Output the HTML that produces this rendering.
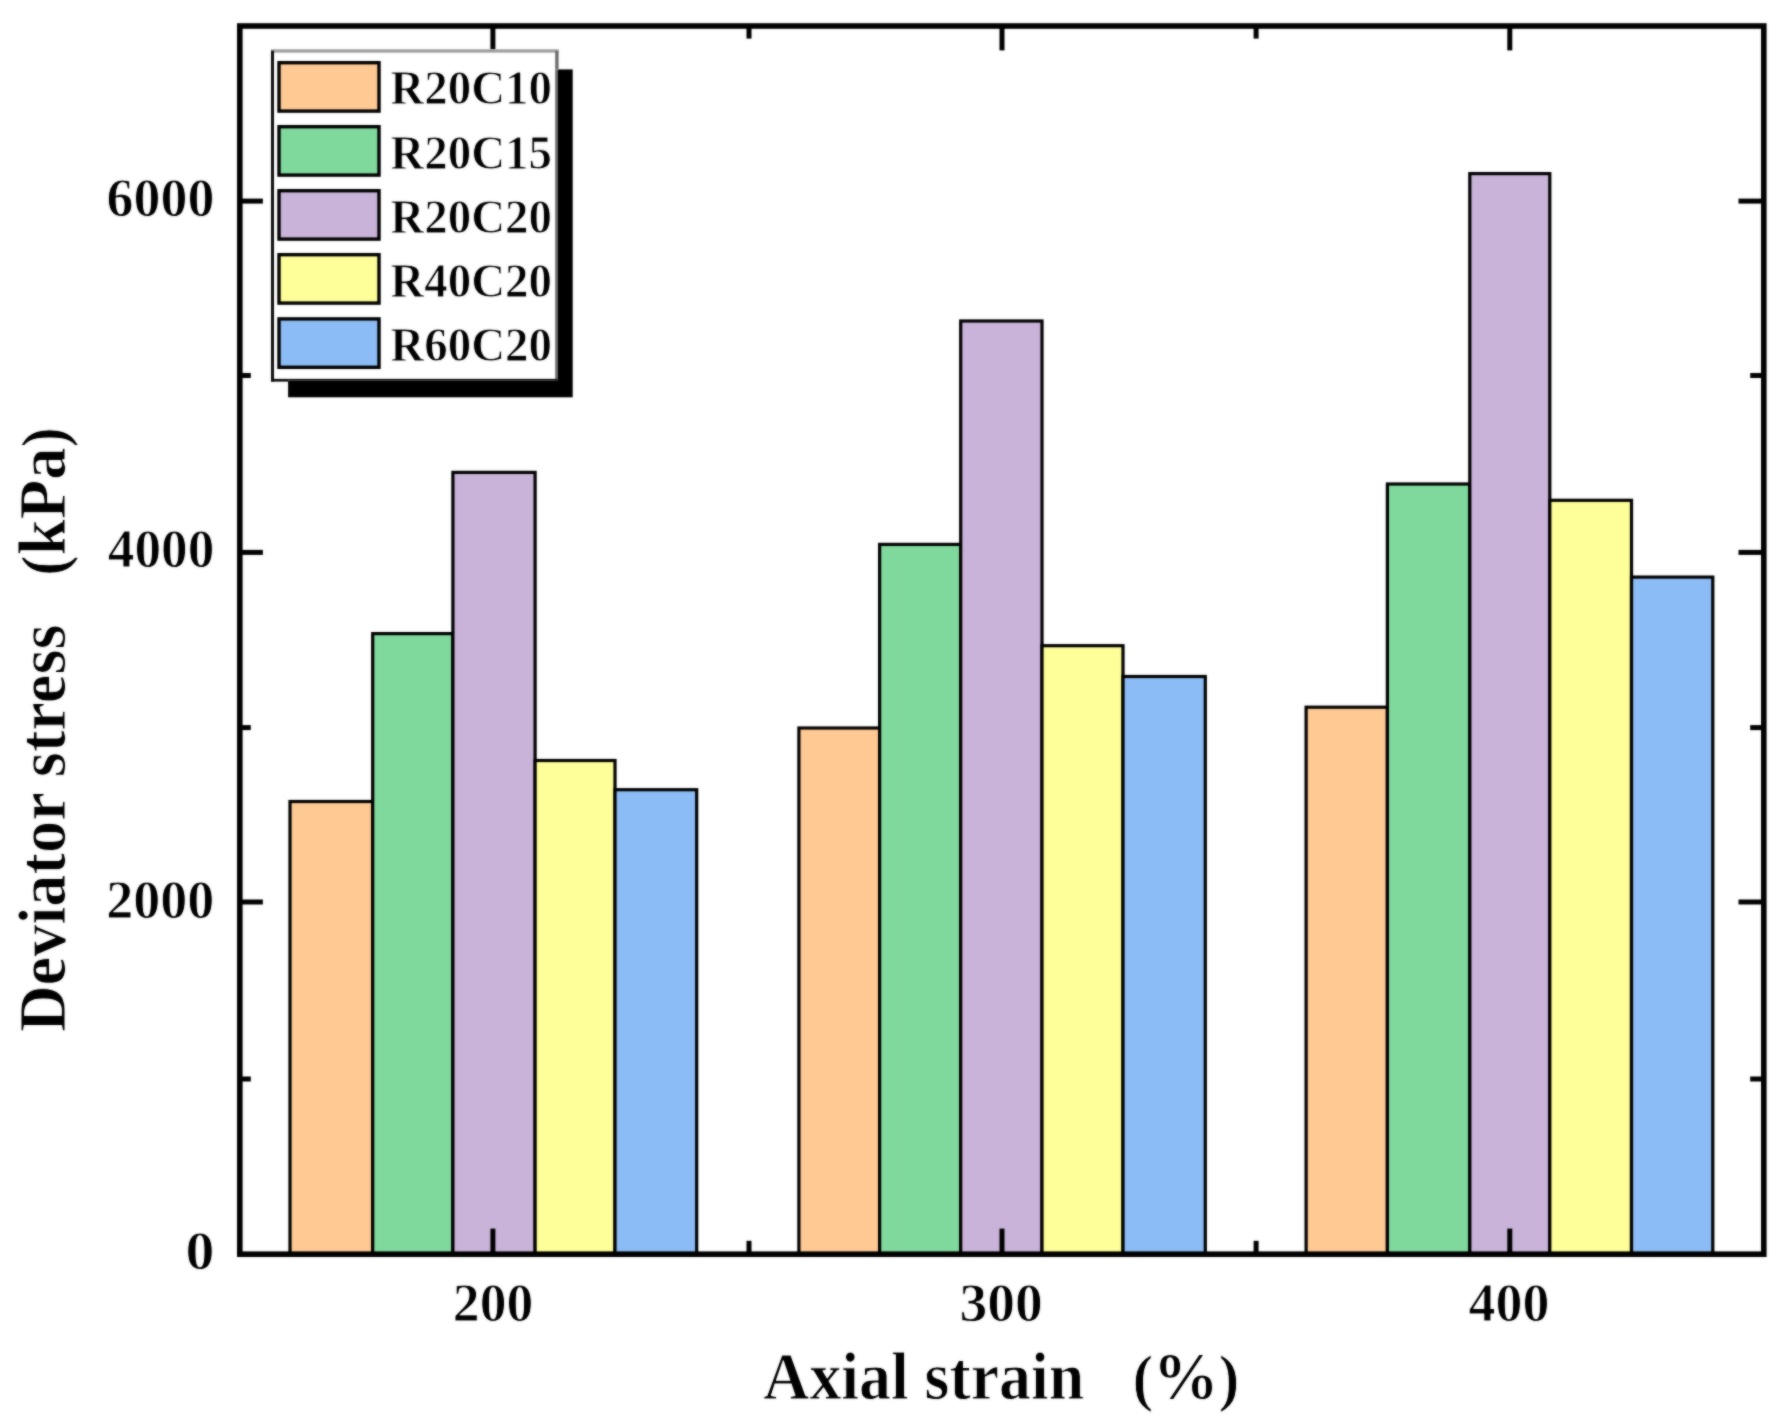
<!DOCTYPE html>
<html lang="en"><head><meta charset="utf-8"><title>Deviator stress vs axial strain</title>
<style>html,body{margin:0;padding:0;background:#fff;}body{width:1785px;height:1421px;overflow:hidden;}svg{display:block;}text{font-family:"Liberation Serif","Times New Roman",Times,serif;font-weight:bold;fill:#000;stroke:#fff;stroke-width:0.9px;stroke-linejoin:round;}</style></head><body>
<svg width="1785" height="1421" viewBox="0 0 1785 1421">
<defs><filter id="soft" filterUnits="userSpaceOnUse" x="0" y="0" width="1785" height="1421" color-interpolation-filters="sRGB"><feGaussianBlur stdDeviation="1.0" result="b"/><feComposite in="SourceGraphic" in2="b" operator="arithmetic" k1="0" k2="0.44999999999999996" k3="0.55" k4="0"/></filter></defs>
<rect x="0" y="0" width="1785" height="1421" fill="#fff"/>
<g filter="url(#soft)">
<rect x="0" y="0" width="1785" height="1421" fill="#fff"/>
<g stroke="#000000" stroke-width="3.2" stroke-linejoin="miter">
<rect x="290.00" y="801.50" width="82.70" height="452.70" fill="#FFC994"/>
<rect x="372.70" y="633.60" width="80.20" height="620.60" fill="#80D99C"/>
<rect x="452.90" y="472.40" width="82.20" height="781.80" fill="#C9B3D9"/>
<rect x="535.10" y="760.50" width="79.90" height="493.70" fill="#FFFF99"/>
<rect x="615.00" y="789.70" width="81.70" height="464.50" fill="#8CBCF5"/>
<rect x="798.90" y="728.00" width="80.70" height="526.20" fill="#FFC994"/>
<rect x="879.60" y="544.40" width="81.10" height="709.80" fill="#80D99C"/>
<rect x="960.70" y="321.00" width="81.30" height="933.20" fill="#C9B3D9"/>
<rect x="1042.00" y="645.70" width="81.00" height="608.50" fill="#FFFF99"/>
<rect x="1123.00" y="676.50" width="82.30" height="577.70" fill="#8CBCF5"/>
<rect x="1306.10" y="707.20" width="81.30" height="547.00" fill="#FFC994"/>
<rect x="1387.40" y="484.00" width="82.40" height="770.20" fill="#80D99C"/>
<rect x="1469.80" y="173.60" width="80.00" height="1080.60" fill="#C9B3D9"/>
<rect x="1549.80" y="500.30" width="81.70" height="753.90" fill="#FFFF99"/>
<rect x="1631.50" y="577.10" width="81.30" height="677.10" fill="#8CBCF5"/>
</g>
<g stroke="#000" fill="none">
<rect x="239.80" y="26.00" width="1524.00" height="1228.20" stroke-width="5.6"/>
<g stroke-width="5.0">
<line x1="492.90" y1="1254.20" x2="492.90" y2="1228.60"/>
<line x1="492.90" y1="26.00" x2="492.90" y2="50.40"/>
<line x1="1002.00" y1="1254.20" x2="1002.00" y2="1228.60"/>
<line x1="1002.00" y1="26.00" x2="1002.00" y2="50.40"/>
<line x1="1509.80" y1="1254.20" x2="1509.80" y2="1228.60"/>
<line x1="1509.80" y1="26.00" x2="1509.80" y2="50.40"/>
<line x1="749.00" y1="1254.20" x2="749.00" y2="1240.80"/>
<line x1="749.00" y1="26.00" x2="749.00" y2="38.60"/>
<line x1="1256.10" y1="1254.20" x2="1256.10" y2="1240.80"/>
<line x1="1256.10" y1="26.00" x2="1256.10" y2="38.60"/>
<line x1="239.80" y1="902.00" x2="262.90" y2="902.00"/>
<line x1="1763.80" y1="902.00" x2="1738.50" y2="902.00"/>
<line x1="239.80" y1="552.40" x2="262.90" y2="552.40"/>
<line x1="1763.80" y1="552.40" x2="1738.50" y2="552.40"/>
<line x1="239.80" y1="201.10" x2="262.90" y2="201.10"/>
<line x1="1763.80" y1="201.10" x2="1738.50" y2="201.10"/>
<line x1="239.80" y1="1079.00" x2="250.80" y2="1079.00"/>
<line x1="1763.80" y1="1079.00" x2="1750.20" y2="1079.00"/>
<line x1="239.80" y1="727.60" x2="250.80" y2="727.60"/>
<line x1="1763.80" y1="727.60" x2="1750.20" y2="727.60"/>
<line x1="239.80" y1="375.50" x2="250.80" y2="375.50"/>
<line x1="1763.80" y1="375.50" x2="1750.20" y2="375.50"/>
</g></g>
<g>
<text transform="translate(106.56 216.00) scale(0.9765 1)" font-size="55.2">6000</text>
<text transform="translate(107.78 567.00) scale(0.9653 1)" font-size="55.2">4000</text>
<text transform="translate(106.15 918.00) scale(0.9803 1)" font-size="55.2">2000</text>
<text transform="translate(185.58 1269.00) scale(1.0486 1)" font-size="55.2">0</text>
<text transform="translate(452.87 1320.80) scale(0.9721 1)" font-size="55.2">200</text>
<text transform="translate(959.47 1320.80) scale(1.0069 1)" font-size="55.2">300</text>
<text transform="translate(1468.58 1320.80) scale(0.9770 1)" font-size="55.2">400</text>
</g>
<g>
<text transform="translate(763.31 1398.80) scale(0.9414 1)" font-size="67.8">Axial strain</text>
<text transform="translate(1132.46 1398.80) scale(0.9676 1)" font-size="67.8"><tspan font-size="64.0">(</tspan>%<tspan font-size="64.0">)</tspan></text>
<text transform="translate(64.50 1031.98) rotate(-90) scale(0.9510 1)" font-size="67.8">Deviator stress</text>
<text transform="translate(64.50 575.70) rotate(-90) scale(0.9552 1)" font-size="67.8"><tspan font-size="64.0">(</tspan>kPa<tspan font-size="64.0">)</tspan></text>
</g>
<g>
<rect x="288.10" y="69.40" width="284.60" height="327.90" fill="#000"/>
<rect x="271.00" y="49.30" width="286.40" height="331.40" fill="#fff"/>
<rect x="271.00" y="49.30" width="287.60" height="20.10" fill="#fff"/>
<rect x="271.00" y="49.30" width="17.10" height="332.30" fill="#fff"/>
<rect x="271.00" y="49.30" width="287.60" height="3.3" fill="#9e9e9e"/>
<rect x="555.2" y="50.80" width="3.4" height="18.60" fill="#6c6c6c"/>
<rect x="555.2" y="69.40" width="2.2" height="311.30" fill="#6c6c6c"/>
<rect x="271.00" y="50.80" width="3.0" height="330.80" fill="#0a0a0a"/>
<rect x="271.00" y="378.9" width="17.10" height="2.7" fill="#0a0a0a"/>
<rect x="288.10" y="378.9" width="269.30" height="1.8" fill="#0a0a0a"/>
<rect x="279.00" y="62.70" width="100.00" height="48.40" fill="#FFC994" stroke="#000000" stroke-width="3.4"/>
<text transform="translate(390.33 104.30) scale(0.9663 1)" font-size="48.6">R20C10</text>
<rect x="279.00" y="126.70" width="100.00" height="48.40" fill="#80D99C" stroke="#000000" stroke-width="3.4"/>
<text transform="translate(390.33 168.55) scale(0.9663 1)" font-size="48.6">R20C15</text>
<rect x="279.00" y="190.70" width="100.00" height="48.40" fill="#C9B3D9" stroke="#000000" stroke-width="3.4"/>
<text transform="translate(390.33 232.80) scale(0.9663 1)" font-size="48.6">R20C20</text>
<rect x="279.00" y="254.70" width="100.00" height="48.40" fill="#FFFF99" stroke="#000000" stroke-width="3.4"/>
<text transform="translate(390.33 297.05) scale(0.9663 1)" font-size="48.6">R40C20</text>
<rect x="279.00" y="318.90" width="100.00" height="48.40" fill="#8CBCF5" stroke="#000000" stroke-width="3.4"/>
<text transform="translate(390.33 361.30) scale(0.9663 1)" font-size="48.6">R60C20</text>
</g>
</g>
</svg></body></html>
